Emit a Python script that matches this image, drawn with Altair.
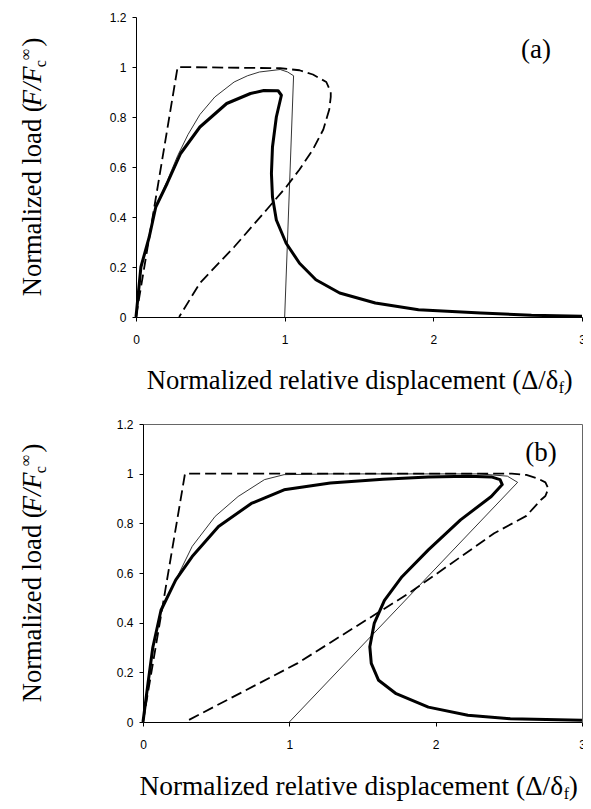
import altair as alt
import pandas as pd

# ---------------- data ----------------
# Panel (a)
a_thick_x = [0, 0.033, 0.089, 0.133, 0.21, 0.30, 0.43, 0.61, 0.77, 0.86, 0.956, 0.978, 0.944, 0.918, 0.911, 0.918, 0.944, 1.01, 1.10, 1.21, 1.37, 1.61, 1.90, 2.32, 2.66, 3.0]
a_thick_y = [0, 0.20, 0.32, 0.44, 0.535, 0.654, 0.76, 0.854, 0.894, 0.906, 0.905, 0.887, 0.80, 0.68, 0.574, 0.48, 0.388, 0.295, 0.215, 0.149, 0.096, 0.056, 0.029, 0.016, 0.007, 0.003]
a_thin_x = [0, 0.033, 0.089, 0.133, 0.21, 0.28, 0.35, 0.43, 0.53, 0.66, 0.75, 0.83, 0.97, 1.02, 1.06, 1.0]
a_thin_y = [0, 0.20, 0.32, 0.44, 0.545, 0.645, 0.73, 0.81, 0.88, 0.94, 0.965, 0.98, 0.99, 0.98, 0.965, 0.0]
a_dash_x = [0, 0.28, 0.97, 1.10, 1.19, 1.28, 1.31, 1.31, 1.30, 1.26, 1.19, 1.10, 1.01, 0.88, 0.66, 0.43, 0.29]
a_dash_y = [0, 1.0, 0.995, 0.987, 0.97, 0.94, 0.90, 0.88, 0.83, 0.75, 0.67, 0.59, 0.52, 0.43, 0.28, 0.136, 0.0]

# Panel (b)
b_thick_x = [0, 0.034, 0.067, 0.123, 0.224, 0.336, 0.516, 0.74, 0.964, 1.28, 1.64, 1.95, 2.22, 2.38, 2.44, 2.455, 2.38, 2.17, 1.95, 1.77, 1.65, 1.58, 1.55, 1.56, 1.61, 1.73, 1.95, 2.22, 2.51, 3.0]
b_thick_y = [0, 0.155, 0.30, 0.45, 0.572, 0.666, 0.787, 0.88, 0.935, 0.962, 0.978, 0.987, 0.99, 0.987, 0.976, 0.956, 0.908, 0.814, 0.693, 0.585, 0.49, 0.397, 0.303, 0.236, 0.168, 0.114, 0.06, 0.027, 0.013, 0.007]
b_thin_x = [0, 0.034, 0.067, 0.123, 0.224, 0.336, 0.493, 0.65, 0.83, 0.964, 1.28, 2.3, 2.49, 2.56, 1.0]
b_thin_y = [0, 0.155, 0.30, 0.45, 0.572, 0.707, 0.828, 0.908, 0.976, 0.996, 0.999, 0.999, 0.99, 0.965, 0.0]
b_dash_x = [0, 0.287, 2.52, 2.62, 2.70, 2.75, 2.77, 2.75, 2.72, 2.62, 2.40, 1.816, 1.054, 0.287]
b_dash_y = [0, 1.0, 1.0, 0.995, 0.98, 0.965, 0.94, 0.91, 0.895, 0.83, 0.76, 0.518, 0.236, 0.0]

x_ticks = [0, 1, 2, 3]
y_ticks = [0, 0.2, 0.4, 0.6, 0.8, 1.0, 1.2]

x_title_main = "Normalized relative displacement (Δ/δ"
x_title_sub = "f"
x_title_end = ")"
y_title_main = "Normalized load ("
y_title_ital = "F/F"
y_title_sub = "c"
y_title_sup = "∞"
y_title_end = ")"

SERIF = "Liberation Serif"
SANS = "Liberation Sans"
TSY = 26.5  # y title size
SS = 16     # sub/superscript size


def series(xs, ys):
    return pd.DataFrame({"x": xs, "y": ys, "i": list(range(len(xs)))})


def panel(thick, thin, dash, label, lx, ly, w, h, x0px, frame, ytitle_x,
          xtitle_cx, xtitle_dy, tsx):
    xs = alt.Scale(domain=[0, 3], nice=False, zero=False, range=[x0px, w])
    ys = alt.Scale(domain=[0, 1.2], nice=False, zero=False)
    common = dict(title=None, grid=False, domainColor="black", tickColor="black",
                  tickSize=4, labelFont=SANS, labelFontSize=12, labelColor="black",
                  labelFlush=False)
    xax = alt.Axis(values=x_ticks, format="~g", labelPadding=13, **common)
    yax = alt.Axis(values=y_ticks, format="~g", labelPadding=6, offset=-x0px, **common)

    def line(df, sw, dashpat=None, first=False):
        kw = dict(color="black", strokeWidth=sw, strokeJoin="round", strokeCap="butt")
        if dashpat:
            kw["strokeDash"] = dashpat
        return alt.Chart(df).mark_line(**kw).encode(
            x=alt.X("x:Q", scale=xs, axis=xax if first else None),
            y=alt.Y("y:Q", scale=ys, axis=yax if first else None),
            order="i:Q")

    layers = [
        line(series(*dash), 1.8, [11, 5], first=True),
        line(series(*thin), 0.8),
        line(series(*thick), 3.0),
        alt.Chart(pd.DataFrame({"x": [lx], "y": [ly], "t": [label]})).mark_text(
            font=SERIF, fontSize=27, color="black", align="center", baseline="middle"
        ).encode(x=alt.X("x:Q", scale=xs, axis=None),
                 y=alt.Y("y:Q", scale=ys, axis=None), text="t:N"),
    ]
    if frame:
        fax = dict(labels=False, ticks=False, title=None, grid=False,
                   domainColor="#666666", domainWidth=1)
        layers.append(alt.Chart(pd.DataFrame({"x": [0.0], "y": [0.0]})).mark_point(opacity=0).encode(
            x=alt.X("x:Q", scale=xs, axis=alt.Axis(orient="top", **fax)),
            y=alt.Y("y:Q", scale=ys, axis=alt.Axis(orient="right", **fax))))

    # x title, composed of pieces so that the subscript can be drawn
    fw = 0.333 * SS * 0.95
    pw = 0.333 * tsx
    main_w = 15.2 * tsx
    total = main_w + fw + pw
    x_end = xtitle_cx - total / 2 + main_w
    yb = h + xtitle_dy
    xt = [(x_title_main, x_end, yb, tsx, "right"),
          (x_title_sub, x_end + 0.5, yb + 4, SS, "left"),
          (x_title_end, x_end + fw + 0.5, yb, tsx, "left")]
    for t, px, py, fs, al in xt:
        layers.append(alt.Chart(pd.DataFrame({"t": [t]})).mark_text(
            font=SERIF, fontSize=fs, color="black", align=al, baseline="alphabetic"
        ).encode(x=alt.value(float(px)), y=alt.value(float(py)), text="t:N"))

    # y title (rotated, reading bottom to top)
    k = 0.985
    w_main = 7.276 * TSY * k
    w_ital = 1.5 * TSY * k
    w_sub = 0.444 * SS
    w_sup = 0.713 * SS
    w_end = 0.333 * TSY
    L = w_main + w_ital + w_sub + w_sup + w_end + 2
    y0 = h / 2 + L / 2
    pieces = [
        (y_title_main, y0, ytitle_x, TSY, "normal"),
        (y_title_ital, y0 - w_main, ytitle_x, TSY, "italic"),
        (y_title_sub, y0 - w_main - w_ital, ytitle_x + 5, SS, "normal"),
        (y_title_sup, y0 - w_main - w_ital - w_sub, ytitle_x - 10, SS, "normal"),
        (y_title_end, y0 - w_main - w_ital - w_sub - w_sup - 2, ytitle_x, TSY, "normal"),
    ]
    for t, py, px, fs, st in pieces:
        layers.append(alt.Chart(pd.DataFrame({"t": [t]})).mark_text(
            font=SERIF, fontSize=fs, fontStyle=st, color="black", align="left",
            baseline="alphabetic", angle=270
        ).encode(x=alt.value(float(px)), y=alt.value(float(py)), text="t:N"))

    return alt.layer(*layers).resolve_axis(x="independent", y="independent").properties(
        width=w, height=h, view=alt.ViewBackground(stroke=None))


pa = panel((a_thick_x, a_thick_y), (a_thin_x, a_thin_y), (a_dash_x, a_dash_y),
           "(a)", 2.69, 1.068, 446, 300, 0, False, -95, 227, 72, 26.6)
pb = panel((b_thick_x, b_thick_y), (b_thin_x, b_thin_y), (b_dash_x, b_dash_y),
           "(b)", 2.72, 1.085, 446, 298, 7, True, -95, 226, 73, 27.4)

chart = alt.concat(pa, pb, columns=1, spacing=107, bounds="flush").properties(
    padding={"left": 10, "top": 3, "right": -3, "bottom": 0},
    background="white",
).configure_view(stroke=None)

chart.save("out.html", embed_options={"renderer": "svg", "actions": False})
